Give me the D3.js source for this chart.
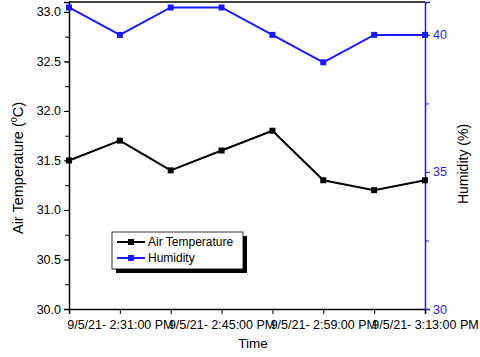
<!DOCTYPE html>
<html>
<head>
<meta charset="utf-8">
<script src="https://cdnjs.cloudflare.com/ajax/libs/d3/7.8.5/d3.min.js"></script>
<style>
  body { margin: 0; background: #fff; }
  svg { font-family: Arial, "Liberation Sans", sans-serif; }
</style>
</head>
<body>
<svg id="chart" width="480" height="357"></svg>
<script>
const times = ["2:24", "2:31", "2:38", "2:45", "2:52", "2:59", "3:06", "3:13"];
const airTemp = [31.5, 31.7, 31.4, 31.6, 31.8, 31.3, 31.2, 31.3];
const humidity = [41, 40, 41, 41, 40, 39, 40, 40];
const labelTimes = ["2:31", "2:45", "2:59", "3:13"];
const tempTicks = [30.0, 30.5, 31.0, 31.5, 32.0, 32.5, 33.0];
const humTicks = [30, 35, 40];

const margin = { left: 69, right: 55, top: 2, bottom: 48 };
const width = 480, height = 357;

const toMin = t => {
  const [h, m] = t.split(":").map(Number);
  return h * 60 + m;
};

const svg = d3.select("#chart");

const x = d3.scaleLinear()
  .domain([toMin(times[0]), toMin(times[times.length - 1])])
  .range([margin.left, width - margin.right]);

const yT = d3.scaleLinear()
  .domain([30, 33.1])
  .range([height - margin.bottom, margin.top]);

const yH = d3.scaleLinear()
  .domain([30, 41.2])
  .range([height - margin.bottom, margin.top]);

// frame top
svg.append("line")
  .attr("x1", margin.left).attr("x2", width - margin.right)
  .attr("y1", margin.top).attr("y2", margin.top)
  .attr("stroke", "#000").attr("stroke-width", 1.5);

// x axis
const xTickVals = times.map(toMin);
const xAxis = d3.axisBottom(x)
  .tickValues(xTickVals)
  .tickSize(5)
  .tickFormat(v => {
    const h = Math.floor(v / 60), m = v % 60;
    const s = h + ":" + String(m).padStart(2, "0");
    return labelTimes.includes(s) ? "9/5/21- " + s + ":00 PM" : "";
  });

const gx = svg.append("g")
  .attr("transform", `translate(0,${height - margin.bottom})`)
  .call(xAxis);
gx.select(".domain").attr("stroke-width", 1.5);
gx.selectAll("text").attr("font-size", 12.5).attr("fill", "#000").attr("dy", "0.95em");

// left axis
const yMinor = d3.range(30, 33.01, 0.25);
const gyMinor = svg.append("g")
  .attr("transform", `translate(${margin.left},0)`)
  .call(d3.axisLeft(yT).tickValues(yMinor).tickSize(4).tickFormat(""));
gyMinor.select(".domain").remove();

const gy = svg.append("g")
  .attr("transform", `translate(${margin.left},0)`)
  .call(d3.axisLeft(yT).tickValues(tempTicks).tickSize(5).tickFormat(d3.format(".1f")));
gy.select(".domain").attr("stroke-width", 1.5);
gy.selectAll("text").attr("font-size", 12.5).attr("fill", "#000");

// right axis
const blue = "#1a1aff";
const gyhMinor = svg.append("g")
  .attr("transform", `translate(${width - margin.right},0)`)
  .call(d3.axisRight(yH).tickValues([32.5, 37.5]).tickSize(4).tickFormat(""));
gyhMinor.select(".domain").remove();
gyhMinor.selectAll("line").attr("stroke", blue);

const gyh = svg.append("g")
  .attr("transform", `translate(${width - margin.right},0)`)
  .call(d3.axisRight(yH).tickValues(humTicks).tickSize(5));
gyh.select(".domain").attr("stroke", blue).attr("stroke-width", 1.5);
gyh.selectAll("line").attr("stroke", blue);
gyh.selectAll("text").attr("font-size", 12.5).attr("fill", blue);

// series
function drawSeries(values, yScale, color) {
  const line = d3.line()
    .x((d, i) => x(toMin(times[i])))
    .y(d => yScale(d));
  svg.append("path")
    .datum(values)
    .attr("d", line)
    .attr("fill", "none")
    .attr("stroke", color)
    .attr("stroke-width", 2);
  svg.selectAll(null)
    .data(values)
    .enter()
    .append("rect")
    .attr("x", (d, i) => x(toMin(times[i])) - 3)
    .attr("y", d => yScale(d) - 3)
    .attr("width", 6)
    .attr("height", 6)
    .attr("fill", color);
}

drawSeries(airTemp, yT, "#000");
drawSeries(humidity, yH, blue);

// axis titles
svg.append("text")
  .attr("x", 253).attr("y", 348)
  .attr("text-anchor", "middle")
  .attr("font-size", 13.5)
  .text("Time");

const lt = svg.append("text")
  .attr("transform", "translate(23,168) rotate(-90)")
  .attr("text-anchor", "middle")
  .attr("font-size", 14.5);
lt.append("tspan").text("Air Temperature (");
lt.append("tspan").attr("font-size", 9).attr("dy", -6).text("0");
lt.append("tspan").attr("dy", 6).text("C)");

svg.append("text")
  .attr("transform", "translate(468,164) rotate(-90)")
  .attr("text-anchor", "middle")
  .attr("font-size", 14)
  .text("Humidity (%)");

// legend
const legend = svg.append("g").attr("transform", "translate(112,232)");
legend.append("rect")
  .attr("x", 4).attr("y", 4).attr("width", 131).attr("height", 37)
  .attr("fill", "#000");
legend.append("rect")
  .attr("x", 0).attr("y", 0).attr("width", 131).attr("height", 37)
  .attr("fill", "#fff").attr("stroke", "#000").attr("stroke-width", 0.8);

const legendItems = [
  { name: "Air Temperature", color: "#000" },
  { name: "Humidity", color: blue }
];
legendItems.forEach((item, i) => {
  const yy = 10 + i * 16;
  legend.append("line")
    .attr("x1", 5).attr("x2", 33).attr("y1", yy).attr("y2", yy)
    .attr("stroke", item.color).attr("stroke-width", 2);
  legend.append("rect")
    .attr("x", 16).attr("y", yy - 3).attr("width", 6).attr("height", 6)
    .attr("fill", item.color);
  legend.append("text")
    .attr("x", 36).attr("y", yy + 4)
    .attr("font-size", 12)
    .text(item.name);
});
</script>
</body>
</html>
